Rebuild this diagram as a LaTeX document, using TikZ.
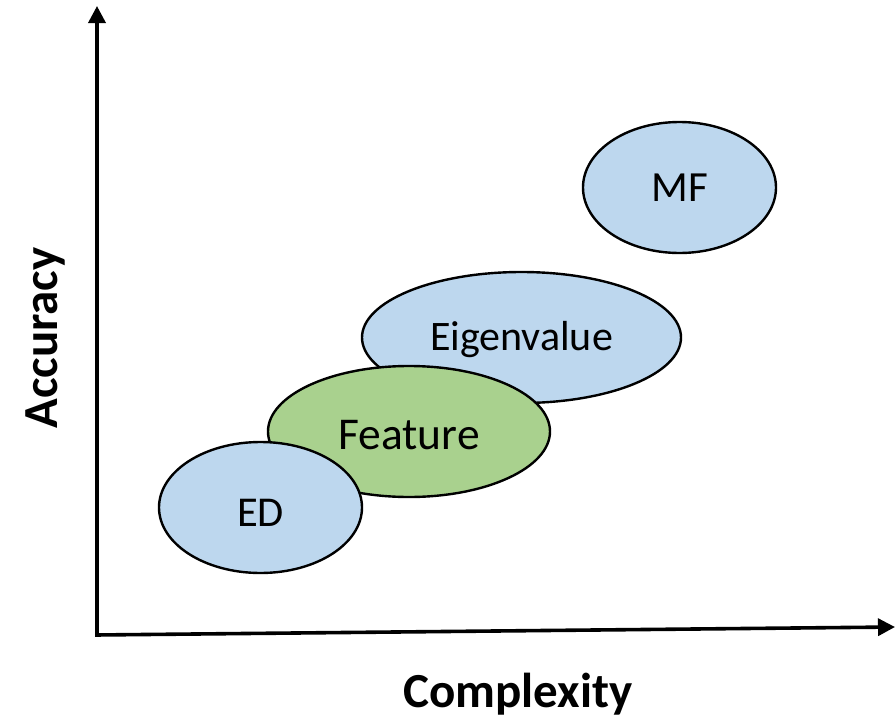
\documentclass[tikz,border=0pt]{standalone}
\usepackage{fontspec}
\setmainfont{Carlito}
\usetikzlibrary{shapes.geometric,arrows.meta}
\definecolor{bluefill}{HTML}{BDD7EE}
\definecolor{greenfill}{HTML}{A9D18E}
\tikzset{
  blob/.style={ellipse, draw=black, line width=2.4pt, inner sep=0pt, text=black,
               text depth=0pt},
  axisline/.style={line width=3.6pt, -{Triangle[width=17pt,length=17pt]}},
  axislabel/.style={font=\bfseries\fontsize{49}{56}\selectfont},
}
\begin{document}
\begin{tikzpicture}[x=1pt,y=-1pt]
  \useasboundingbox (0,0) rectangle (895,715);

  % axes
  \coordinate (origin) at (97,635);
  \coordinate (ytip) at (97,6);
  \coordinate (xtip) at (895,627);
  \draw[axisline] (origin) -- (ytip);
  \draw[axisline] ([xshift=-1.8pt]origin) -- (xtip);

  % method regions, back to front
  \node[blob, fill=bluefill, minimum width=319pt, minimum height=131pt,
        text height=26pt, font=\fontsize{42}{50}\selectfont] (eig) at (521.5,337.5) {Eigenvalue};

  \node[blob, fill=greenfill, minimum width=282pt, minimum height=131pt,
        text height=35pt, font=\fontsize{45.5}{52}\selectfont] (feat) at (409,431.5) {Feature};

  \node[blob, fill=bluefill, minimum width=203pt, minimum height=131pt,
        text height=37pt, font=\fontsize{42.5}{50}\selectfont] (ed) at (260.5,507.5) {ED};

  \node[blob, fill=bluefill, minimum width=193pt, minimum height=131pt,
        text height=28pt, font=\fontsize{43}{50}\selectfont] (mf) at (679.5,187.5) {MF};

  % axis labels
  \node[axislabel] (xlabel) at (518,694) {Complexity};
  \node[axislabel, rotate=90] (ylabel) at (45,338) {Accuracy};
\end{tikzpicture}
\end{document}
